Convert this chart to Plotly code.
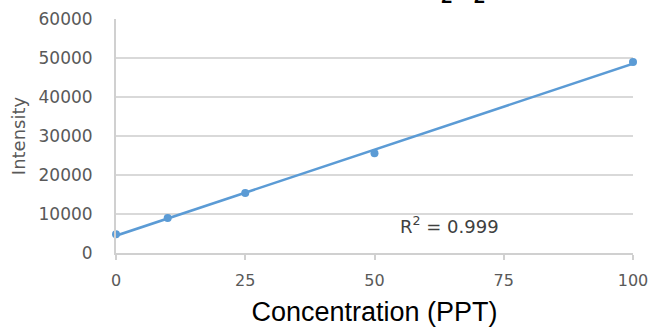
import numpy as np
import plotly.graph_objects as go

concentration = [0, 10, 25, 50, 100]
intensity = [4800, 9000, 15400, 25600, 49000]
x_ticks = [0, 25, 50, 75, 100]
y_ticks = [0, 10000, 20000, 30000, 40000, 50000, 60000]

slope, intercept = np.polyfit(concentration, intensity, 1)
fit_x = [min(concentration), max(concentration)]
fit_y = [slope * v + intercept for v in fit_x]

blue = "#5B9BD5"
fig = go.Figure()
fig.add_trace(go.Scatter(x=fit_x, y=fit_y, mode="lines",
                         line=dict(color=blue, width=2.5), cliponaxis=False,
                         showlegend=False, hoverinfo="skip"))
fig.add_trace(go.Scatter(x=concentration, y=intensity, mode="markers",
                         marker=dict(color=blue, size=8), cliponaxis=False,
                         showlegend=False))

fig.update_layout(
    width=649, height=327,
    margin=dict(l=116, r=16, t=19, b=74),
    paper_bgcolor="white", plot_bgcolor="white",
    font=dict(family="DejaVu Sans", color="#595959"),
    xaxis=dict(range=[0, 100], tickvals=x_ticks, showgrid=False, automargin=False,
               showline=True, linecolor="#d0d0d0", linewidth=2,
               ticks="outside", ticklen=5, tickcolor="#d0d0d0", tickwidth=2,
               ticklabelstandoff=7,
               zeroline=False,
               tickfont=dict(family="DejaVu Sans", size=16, color="#595959"),
               title=dict(text="Concentration (PPT)",
                          font=dict(family="Liberation Sans", size=27, color="#000000"),
                          standoff=13)),
    yaxis=dict(range=[0, 60000], tickvals=y_ticks, tickformat="d", showgrid=True,
               automargin=False,
               gridcolor="#d9d9d9", gridwidth=2,
               showline=True, linecolor="#d0d0d0", linewidth=2,
               zeroline=False, ticks="", ticklabelstandoff=18,
               tickfont=dict(family="DejaVu Sans", size=17, color="#595959"),
               title=dict(text="Intensity",
                          font=dict(family="DejaVu Sans", size=18, color="#595959"),
                          standoff=8)),
    annotations=[
        dict(text="R<sup>2</sup> = 0.999", x=64.6, y=7200, xref="x", yref="y",
             showarrow=False, font=dict(family="DejaVu Sans", size=18, color="#404040")),
        dict(text="<b>H<sub>2</sub>O<sub>2</sub></b>", xref="paper", yref="paper",
             x=0.717, y=1, yanchor="bottom", yshift=10, showarrow=False,
             font=dict(family="Liberation Sans", size=28, color="#000000")),
    ],
)
fig.write_html("out.html", config={"displayModeBar": False},
               post_script="document.body.style.margin='0';")
